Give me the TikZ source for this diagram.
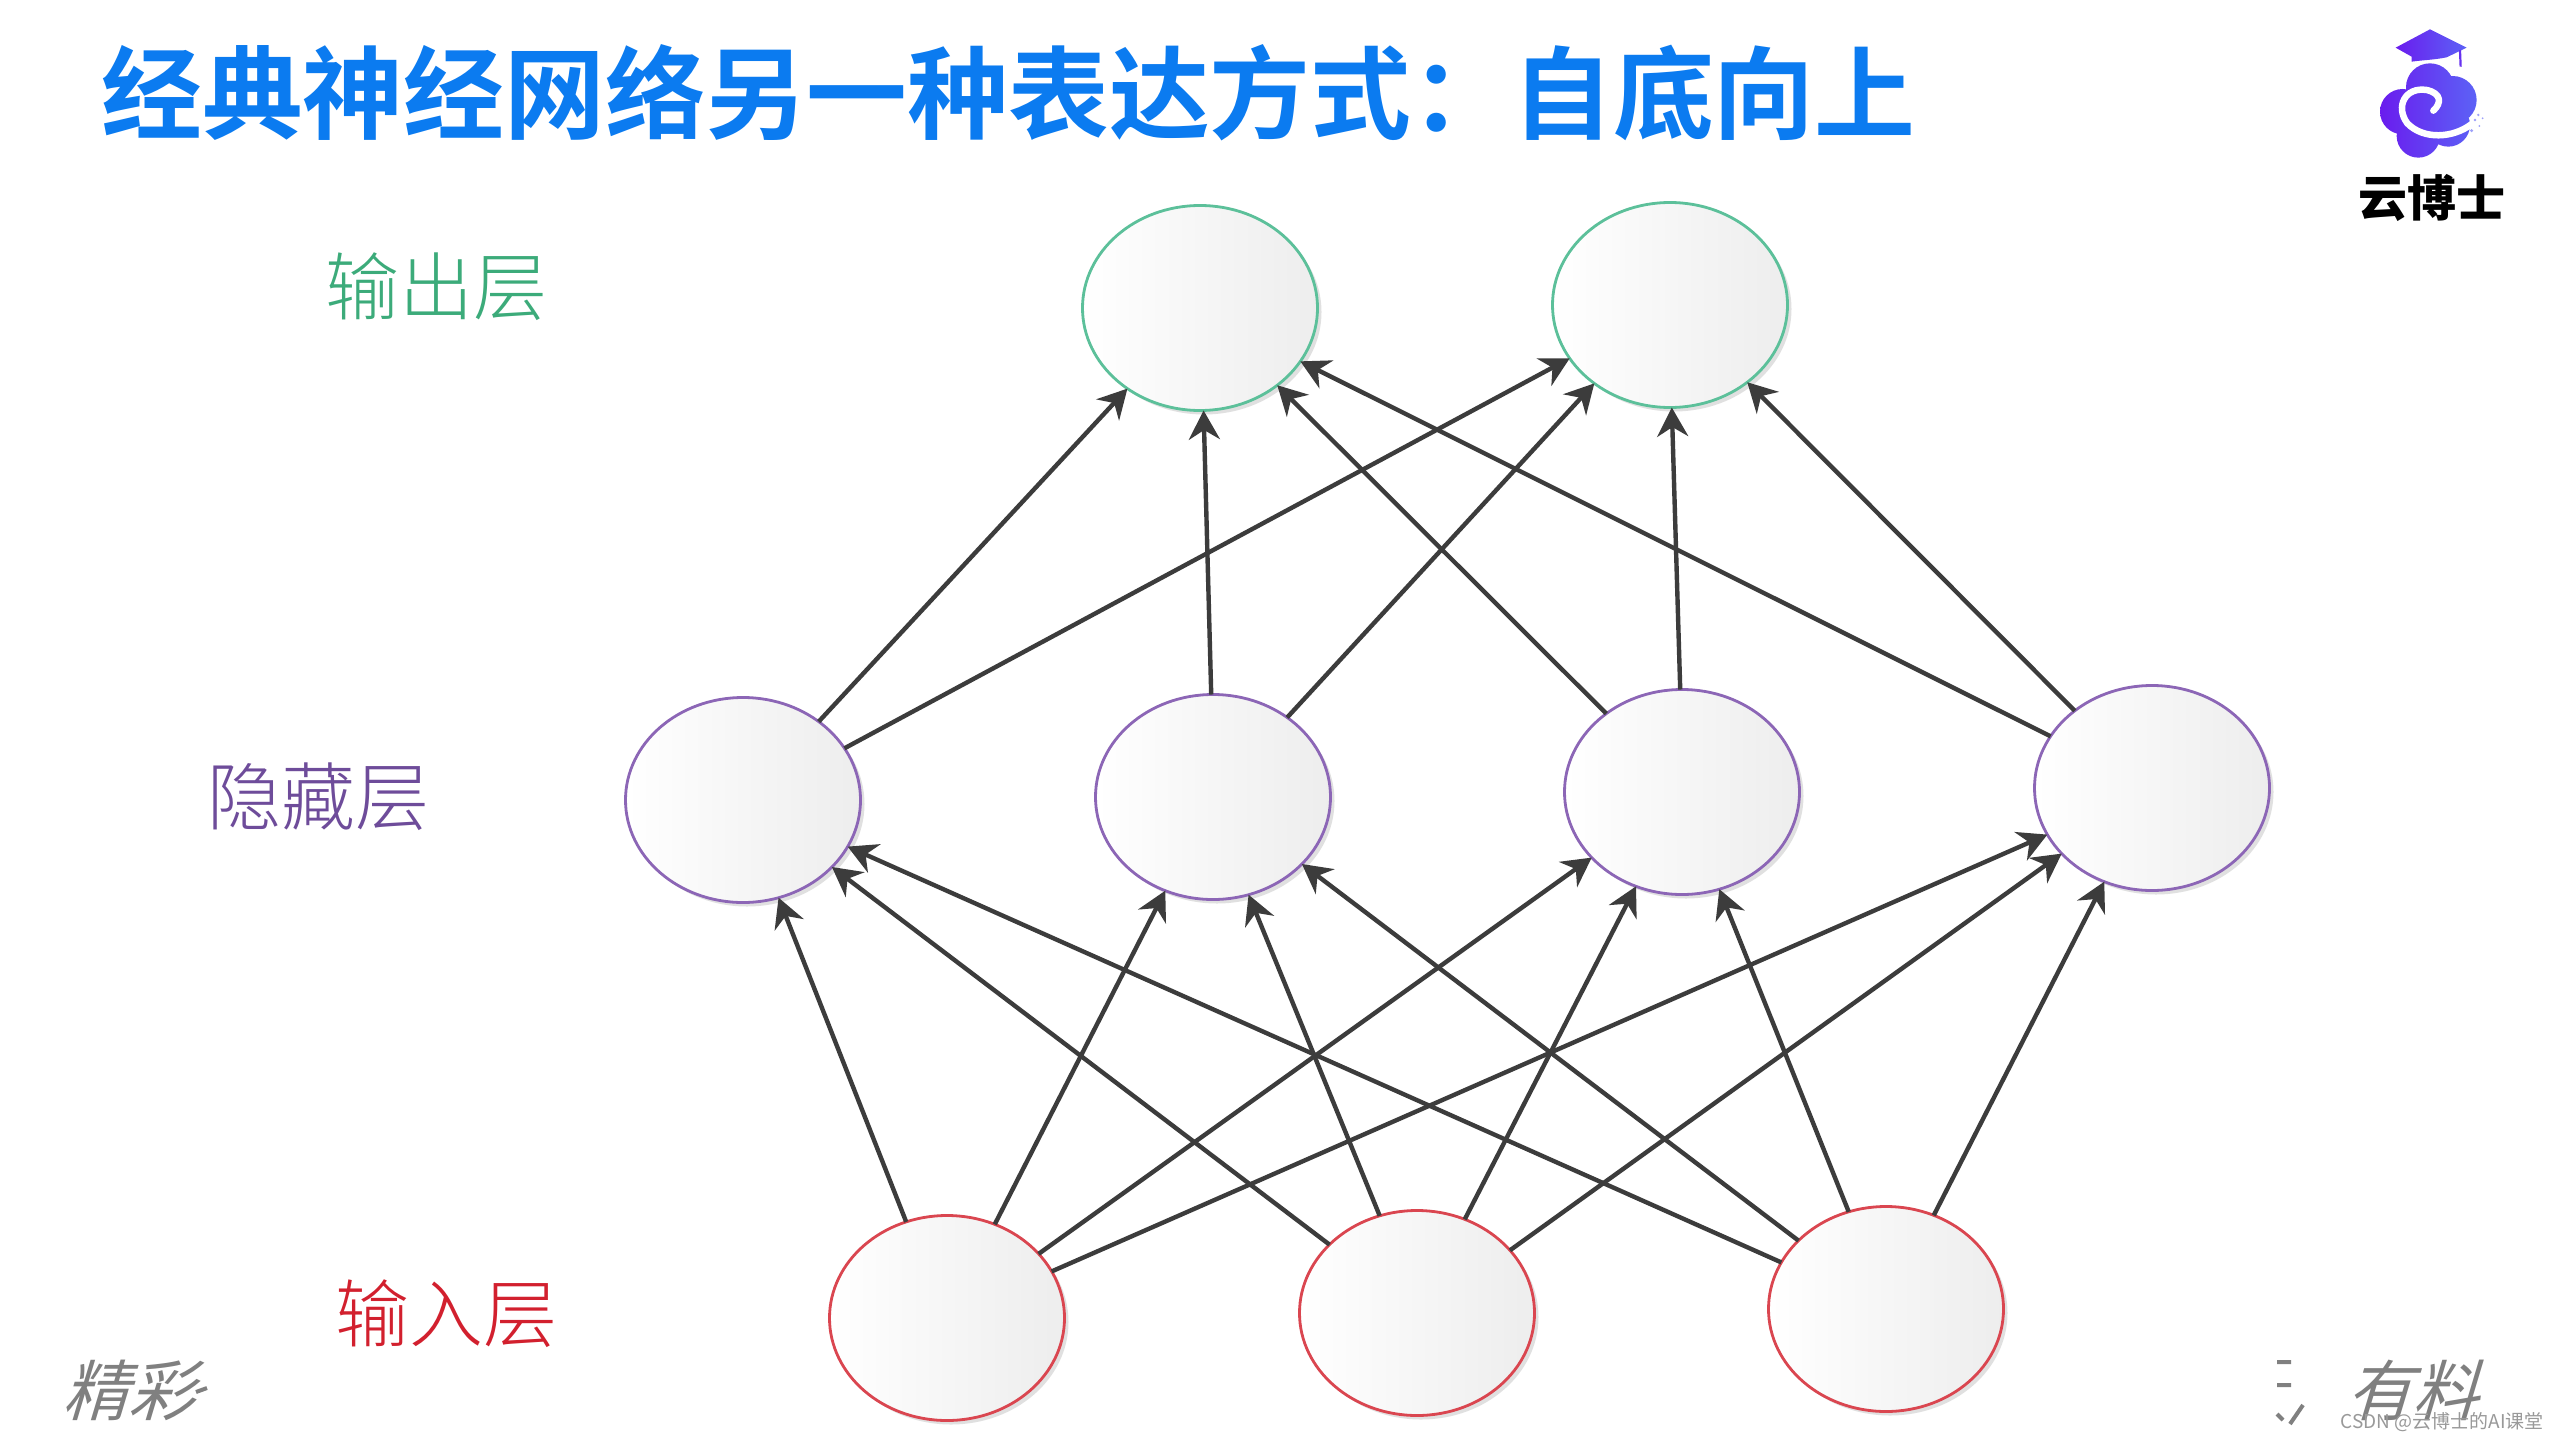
\documentclass[tikz,border=0pt]{standalone}
\usepackage{fontspec}
\usetikzlibrary{shapes.geometric,arrows.meta,shadows}
\newfontfamily\cjk{Noto Sans CJK SC}
\newfontfamily\cjkbold{Noto Sans CJK SC Bold}
\newfontfamily\cjklight{Noto Sans CJK SC Light}
\newfontfamily\cjkslant[FakeSlant=0.3]{Noto Sans CJK SC}
\definecolor{titleblue}{HTML}{0B7BF0}
\definecolor{greenline}{HTML}{5CC09A}
\definecolor{purpleline}{HTML}{8C66B6}
\definecolor{redline}{HTML}{DA4650}
\definecolor{greentext}{HTML}{3CAB7A}
\definecolor{purpletext}{HTML}{6E4C9A}
\definecolor{redtext}{HTML}{D2202E}
\definecolor{arrowgray}{HTML}{3C3C3C}
\definecolor{slogangray}{HTML}{808080}
\definecolor{logoL}{HTML}{6A1CEE}
\definecolor{logoR}{HTML}{5C62F6}
\tikzset{
  neuron/.style={ellipse,minimum width=235pt,minimum height=205pt,inner sep=0pt,outer sep=0pt,
    line width=2.8pt,left color=white,right color=black!7,
    drop shadow={shadow xshift=4pt,shadow yshift=-4pt,fill=black!30,opacity=.4}},
  outneuron/.style={neuron,draw=greenline},
  hidneuron/.style={neuron,draw=purpleline},
  inneuron/.style={neuron,draw=redline},
  link/.style={draw=arrowgray,line width=4.4pt,-{Stealth[length=29pt,width=31pt]}},
  layerlabel/.style={inner sep=0pt,font=\cjklight\fontsize{74}{74}\selectfont},
  slogan/.style={inner sep=0pt,text=slogangray,font=\cjkslant\fontsize{66}{66}\selectfont}
}
\begin{document}
\begin{tikzpicture}[x=1pt,y=-1pt]
\useasboundingbox[fill=white] (0,0) rectangle (2560,1440);

\node[anchor=west,inner sep=0pt,text=titleblue,font=\cjkbold\fontsize{100.8}{100}\selectfont] (title) at (101,93)
  {经典神经网络另一种表达方式：自底向上};

\node[outneuron] (o1) at (1200,308) {};
\node[outneuron] (o2) at (1670,305) {};
\node[hidneuron] (h1) at (743,800) {};
\node[hidneuron] (h2) at (1213,797) {};
\node[hidneuron] (h3) at (1682,792) {};
\node[hidneuron] (h4) at (2152,788) {};
\node[inneuron] (i1) at (947,1318) {};
\node[inneuron] (i2) at (1417,1313) {};
\node[inneuron] (i3) at (1886,1309) {};

\foreach \a/\p/\b/\q in {
  h1/46.8/o1/228, h1/27.7/o2/208.7, h2/91.8/o1/272.7, h2/47.4/o2/226.8,
  h3/134.4/o1/315, h3/91.8/o2/271.8, h4/153.8/o1/332.7, h4/135/o2/315,
  i1/113.4/h1/290.4, i1/63.4/h2/243, i1/35.5/h3/216.9, i1/24/h4/204.4,
  i2/142.6/h1/323.8, i2/111.8/h2/290.7, i2/63/h3/244.2, i2/34.4/h4/216.4,
  i3/156/h1/336.6, i3/142.1/h2/323.1, i3/111/h3/291.5, i3/63/h4/243.4}
  \draw[link] (\a.\p) -- (\b.\q);

\node[layerlabel,text=greentext] (lo) at (436,287) {输出层};
\node[layerlabel,text=purpletext] (lh) at (318,797) {隐藏层};
\node[layerlabel,text=redtext] (li) at (446,1314) {输入层};

\node[slogan,anchor=west] (s1) at (62,1390) {精彩};
\node[slogan,anchor=west] (s2) at (2346,1390) {有料};
\draw[slogangray,line width=4pt] (196,1392) -- (207,1388);
\draw[slogangray,line width=4pt] (2277,1362) -- (2291,1362) (2277,1385) -- (2291,1385) (2277,1414) -- (2283,1420) (2290,1424) -- (2303,1405);

\node[anchor=east,inner sep=0pt,text=black!40,font=\cjk\fontsize{19}{19}\selectfont] (wm) at (2544,1422) {CSDN @云博士的AI课堂};

% logo
\begin{scope}[shift={(2200,0)},x=0.3333pt,y=-0.3333pt]
  \shade[left color=logoL,right color=logoR]
    (690,88) -- (800,143) -- (740,172) .. controls (700,180) and (670,180) .. (635,185) -- (635,170) -- (587,143) -- cycle;
  \draw[logoL!70!logoR,line width=2.2pt] (780,150) -- (782,200);
  \shade[left color=logoL,right color=logoR]
    (690,262) circle (72) (758,300) circle (72) (608,335) circle (68) (655,408) circle (65) (745,375) circle (65) (680,330) circle (85);
  \draw[white,line width=6.5pt,line cap=round]
    (815,372) .. controls (760,415) and (670,420) .. (622,370)
    .. controls (585,320) and (615,260) .. (680,270)
    .. controls (725,280) and (725,310) .. (700,332);
  \fill[logoR!60] (835,345) circle (4) (848,355) circle (3) (825,360) circle (4) (815,392) circle (5) (838,378) circle (3);
\end{scope}
\node[inner sep=0pt,text=black,font=\cjk\fontsize{49}{49}\selectfont\bfseries] (logotext) at (2432,198) {云博士};
\end{tikzpicture}
\end{document}
